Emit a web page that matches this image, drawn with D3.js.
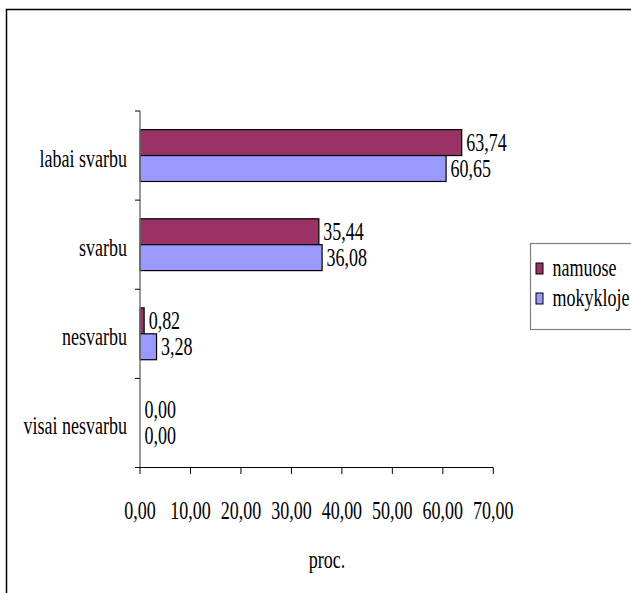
<!DOCTYPE html>
<html>
<head>
<meta charset="utf-8">
<script src="https://cdn.jsdelivr.net/npm/d3@7"></script>
<style>
  html, body { margin: 0; padding: 0; background: #fff; }
  svg { display: block; }
</style>
</head>
<body>
<div id="chart"></div>
<script>
const categories = ["labai svarbu", "svarbu", "nesvarbu", "visai nesvarbu"];
const seriesNames = ["namuose", "mokykloje"];
const namuose = [63.74, 35.44, 0.82, 0.00];
const mokykloje = [60.65, 36.08, 3.28, 0.00];
const xTicks = [0, 10, 20, 30, 40, 50, 60, 70];
const xTitle = "proc.";
const colors = ["#993366", "#9999FF"];

const W = 631, H = 593;
const SY = 1.36; // vertical stretch of the original text
const FS = 18;
const FONT = "Liberation Serif";
const svg = d3.select("#chart").append("svg").attr("width", W).attr("height", H);

// outer chart border (right/bottom edges fall outside the view)
svg.append("rect").attr("x", 6.5).attr("y", 9.5).attr("width", 800).attr("height", 800)
  .attr("fill", "none").attr("stroke", "#000").attr("stroke-width", 1.5);

const x = d3.scaleLinear().domain([0, 70]).range([140, 493.3]);
const y = d3.scaleBand().domain(categories).range([111, 467.5]).padding(0);
const ySub = d3.scaleBand().domain(seriesNames).range([0, y.bandwidth()]).paddingInner(0).paddingOuter(0.72);

const fmt = v => d3.format(".2f")(v).replace(".", ",");

function stretchedText(g, tx, ty, str, anchor) {
  return g.append("text")
    .attr("transform", `translate(${tx},${ty}) scale(1,${SY})`)
    .attr("text-anchor", anchor || "start")
    .attr("font-family", FONT)
    .attr("font-size", FS)
    .attr("fill", "#000")
    .text(str);
}

// bars
const data = [namuose, mokykloje];
const gBars = svg.append("g");
seriesNames.forEach((s, si) => {
  categories.forEach((c, ci) => {
    const v = data[si][ci];
    const y0 = y(c) + ySub(s);
    if (v > 0) {
      gBars.append("rect")
        .attr("x", x(0)).attr("y", y0)
        .attr("width", x(v) - x(0)).attr("height", ySub.bandwidth())
        .attr("fill", colors[si]).attr("stroke", "#000").attr("stroke-width", 1.2);
    }
    stretchedText(gBars, x(v) + 4.5, y0 + ySub.bandwidth() / 2 + 8.5, fmt(v));
  });
});

// y axis
const gy = svg.append("g");
gy.append("line").attr("x1", 140).attr("x2", 140).attr("y1", 111).attr("y2", 467.5)
  .attr("stroke", "#777").attr("stroke-width", 1.5);
const bounds = categories.map(c => y(c)).concat([y.range()[1]]);
bounds.forEach(b => {
  gy.append("line").attr("x1", 135).attr("x2", 140).attr("y1", b).attr("y2", b)
    .attr("stroke", "#000").attr("stroke-width", 1);
});
categories.forEach(c => {
  stretchedText(gy, 127, y(c) + y.bandwidth() / 2 + 11, c, "end");
});

// x axis
const gx = svg.append("g");
gx.append("line").attr("x1", 135).attr("x2", x(70)).attr("y1", 467.5).attr("y2", 467.5)
  .attr("stroke", "#000").attr("stroke-width", 1.2);
xTicks.forEach(t => {
  gx.append("line").attr("x1", x(t)).attr("x2", x(t)).attr("y1", 467.5).attr("y2", 474)
    .attr("stroke", "#000").attr("stroke-width", 1);
  stretchedText(gx, x(t), 519, fmt(t), "middle");
});
stretchedText(gx, 327, 568, xTitle, "middle");

// legend
const gl = svg.append("g");
gl.append("rect").attr("x", 530.5).attr("y", 243.5).attr("width", 150).attr("height", 86)
  .attr("fill", "#fff").attr("stroke", "#808080").attr("stroke-width", 1.2);
seriesNames.forEach((s, i) => {
  const cy = 269 + i * 30;
  gl.append("rect").attr("x", 536).attr("y", cy - 6).attr("width", 7).attr("height", 11)
    .attr("fill", colors[i]).attr("stroke", "#000").attr("stroke-width", 1);
  stretchedText(gl, 552.5, cy + 7, s);
});
</script>
</body>
</html>
